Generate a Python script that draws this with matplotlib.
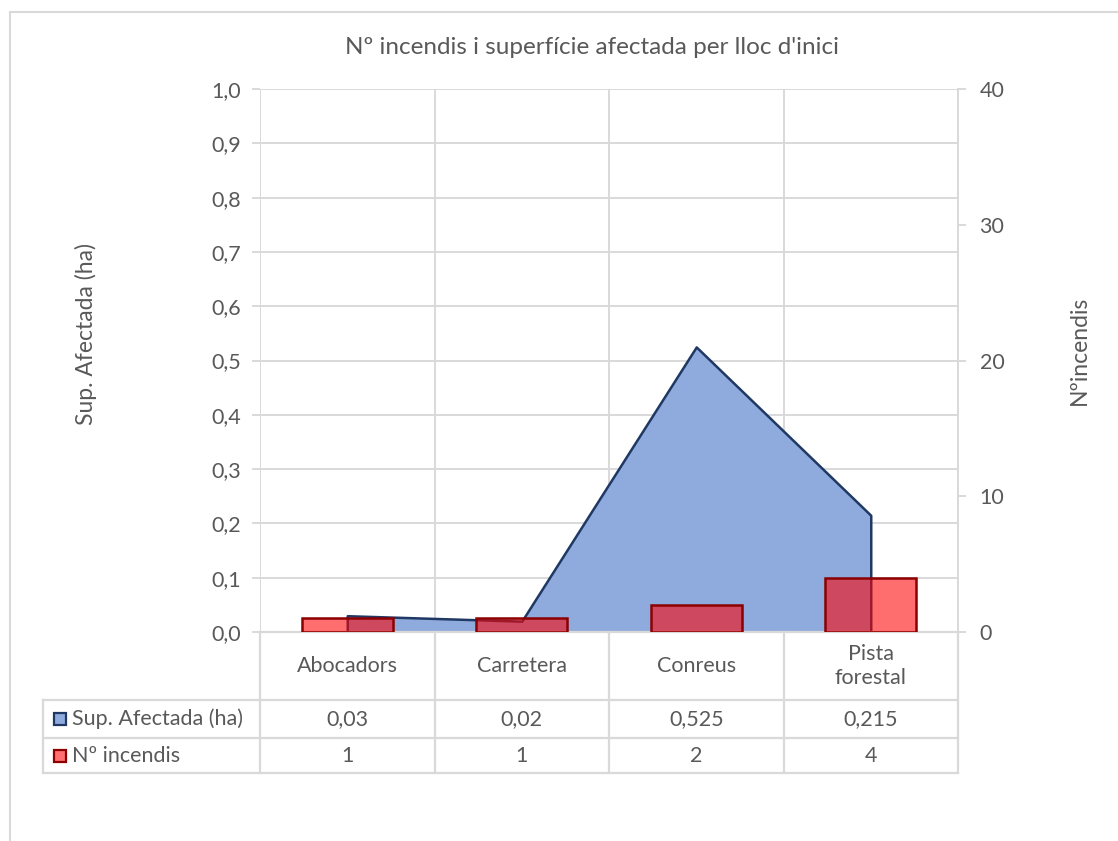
import matplotlib.pyplot as plt
from matplotlib.patches import Rectangle
from matplotlib.lines import Line2D

# data
categories = ["Abocadors", "Carretera", "Conreus", "Pista\nforestal"]
sup_afectada = [0.03, 0.02, 0.525, 0.215]
n_incendis = [1, 1, 2, 4]
sup_labels = ["0,03", "0,02", "0,525", "0,215"]
n_labels = ["1", "1", "2", "4"]
left_ticks = [0.0, 0.1, 0.2, 0.3, 0.4, 0.5, 0.6, 0.7, 0.8, 0.9, 1.0]
right_ticks = [0, 10, 20, 30, 40]

plt.rcParams['font.family'] = ['Lato', 'DejaVu Sans']
TXT = '#595959'
GRID = '#D9D9D9'
AREA = '#8FAADC'
AREA_EDGE = '#1F3864'
BAR_EDGE = '#8B0000'
FS = 15.5

W, H = 1118, 841
fig = plt.figure(figsize=(W / 100, H / 100), dpi=100)

def fx(px):
    return px / W

def fy(py):
    return 1 - py / H

# plot area in pixels: x 260..958, y 89..632
x0, x1, y0, y1 = 260, 958, 89, 632
ax = fig.add_axes([fx(x0), fy(y1), fx(x1 - x0), (y1 - y0) / H])
x = list(range(len(categories)))

ax.fill_between(x, sup_afectada, 0, facecolor=AREA, edgecolor=AREA_EDGE,
                linewidth=1.8, zorder=2)
ax.set_xlim(-0.5, len(categories) - 0.5)
ax.set_ylim(0, 1.0)
ax.set_yticks(left_ticks)
ax.set_yticklabels([f"{t:.1f}".replace('.', ',') for t in left_ticks])
ax.set_xticks([i - 0.5 for i in range(len(categories) + 1)])
ax.set_xticklabels([])
ax.grid(True, color=GRID, linewidth=1.4)
ax.set_axisbelow(True)
ax.tick_params(axis='y', colors=GRID, labelcolor=TXT, labelsize=FS,
               length=5.5, width=1.4, pad=8)
ax.tick_params(axis='x', length=0)
for s in ax.spines.values():
    s.set_visible(False)

ax2 = ax.twinx()
ax2.bar(x, n_incendis, width=0.52, color=(1, 0, 0, 0.57),
        edgecolor=BAR_EDGE, linewidth=1.8, zorder=3)
ax2.set_ylim(0, 40)
ax2.set_yticks(right_ticks)
ax2.tick_params(axis='y', colors=GRID, labelcolor=TXT, labelsize=FS,
                length=5.5, width=1.4, pad=10)
for s in ['top', 'left', 'bottom']:
    ax2.spines[s].set_visible(False)
ax2.spines['right'].set_color(GRID)
ax2.spines['right'].set_linewidth(1.4)
ax2.axhline(0, color=GRID, linewidth=1.6, zorder=1, clip_on=False)

# title and axis titles
fig.text(fx(592), fy(47), "Nº incendis i superfície afectada per lloc d'inici",
         ha='center', va='center', fontsize=17.5, color=TXT)
fig.text(fx(86), fy(334), "Sup. Afectada (ha)", rotation=90,
         ha='center', va='center', fontsize=16.5, color=TXT)
fig.text(fx(1079), fy(350), "Nºincendis", rotation=90,
         ha='center', va='center', fontsize=16.5, color=TXT)

# data table below the plot
col_x = [x0 + (x1 - x0) * i / len(categories) for i in range(len(categories) + 1)]
row_y = [632, 700, 738, 773]
tl_x = 43
lw = 1.6

def hline(xa, xb, yy):
    fig.add_artist(Line2D([fx(xa), fx(xb)], [fy(yy), fy(yy)], color=GRID, lw=lw))

def vline(xx, ya, yb):
    fig.add_artist(Line2D([fx(xx), fx(xx)], [fy(ya), fy(yb)], color=GRID, lw=lw))

for yy in row_y[1:]:
    hline(tl_x, x1, yy)
for xx in col_x:
    vline(xx, row_y[0], row_y[3])
vline(tl_x, row_y[1], row_y[3])

for i, cat in enumerate(categories):
    cx = (col_x[i] + col_x[i + 1]) / 2
    fig.text(fx(cx), fy((row_y[0] + row_y[1]) / 2), cat, ha='center',
             va='center', fontsize=FS, color=TXT, linespacing=1.3)
    fig.text(fx(cx), fy((row_y[1] + row_y[2]) / 2), sup_labels[i], ha='center',
             va='center', fontsize=FS, color=TXT)
    fig.text(fx(cx), fy((row_y[2] + row_y[3]) / 2), n_labels[i], ha='center',
             va='center', fontsize=FS, color=TXT)

series = [("Sup. Afectada (ha)", AREA, AREA_EDGE), ("Nº incendis", '#FF6F6F', BAR_EDGE)]
for r, (name, fc, ec) in enumerate(series):
    cy = (row_y[r + 1] + row_y[r + 2]) / 2
    fig.add_artist(Rectangle((fx(54), fy(cy + 6)), fx(12), 12 / H,
                             facecolor=fc, edgecolor=ec, linewidth=1.6))
    fig.text(fx(72), fy(cy), name, ha='left', va='center', fontsize=FS,
             color=TXT)

# outer chart frame
fig.add_artist(Line2D([fx(10), fx(10)], [fy(12), 0], color=GRID, lw=1.5))
fig.add_artist(Line2D([fx(10), 1], [fy(12), fy(12)], color=GRID, lw=1.5))

fig.savefig("out.png", dpi=100)
